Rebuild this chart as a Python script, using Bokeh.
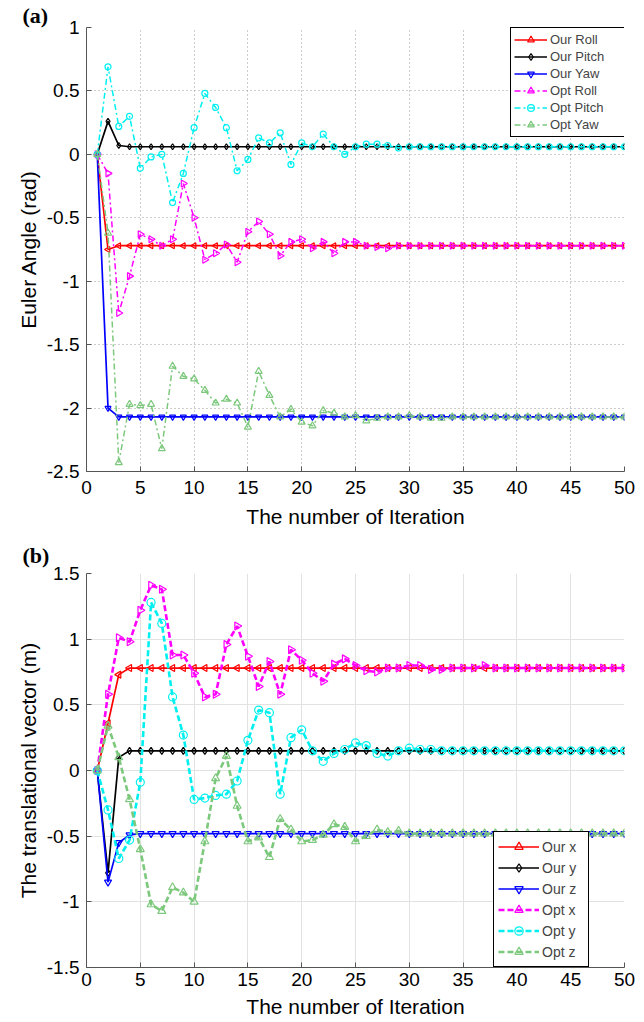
import numpy as np
from bokeh.plotting import figure
from bokeh.models import Range1d, FixedTicker
from bokeh.layouts import column
from bokeh.embed import file_html
from bokeh.resources import INLINE

# ---------------- data ----------------
iterations = list(range(1, 51))
x_ticks = [0, 5, 10, 15, 20, 25, 30, 35, 40, 45, 50]
x_tick_labels = ["0", "5", "10", "15", "20", "25", "30", "35", "40", "45", "50"]

top_y_ticks = [-2.5, -2.0, -1.5, -1.0, -0.5, 0.0, 0.5, 1.0]
top_y_tick_labels = ["-2.5", "-2", "-1.5", "-1", "-0.5", "0", "0.5", "1"]
bot_y_ticks = [-1.5, -1.0, -0.5, 0.0, 0.5, 1.0, 1.5]
bot_y_tick_labels = ["-1.5", "-1", "-0.5", "0", "0.5", "1", "1.5"]

our_roll = [
    0.00, -0.75, -0.72, -0.72, -0.72, -0.72, -0.72, -0.72, -0.72, -0.72,
    -0.72, -0.72, -0.72, -0.72, -0.72, -0.72, -0.72, -0.72, -0.72, -0.72,
    -0.72, -0.72, -0.72, -0.72, -0.72, -0.72, -0.72, -0.72, -0.72, -0.72,
    -0.72, -0.72, -0.72, -0.72, -0.72, -0.72, -0.72, -0.72, -0.72, -0.72,
    -0.72, -0.72, -0.72, -0.72, -0.72, -0.72, -0.72, -0.72, -0.72, -0.72]
our_pitch = [
    0.00, 0.26, 0.07, 0.06, 0.06, 0.06, 0.06, 0.06, 0.06, 0.06,
    0.06, 0.06, 0.06, 0.06, 0.06, 0.06, 0.06, 0.06, 0.06, 0.06,
    0.06, 0.06, 0.06, 0.06, 0.06, 0.06, 0.06, 0.06, 0.06, 0.06,
    0.06, 0.06, 0.06, 0.06, 0.06, 0.06, 0.06, 0.06, 0.06, 0.06,
    0.06, 0.06, 0.06, 0.06, 0.06, 0.06, 0.06, 0.06, 0.06, 0.06]
our_yaw = [
    0.00, -2.00, -2.07, -2.07, -2.07, -2.07, -2.07, -2.07, -2.07, -2.07,
    -2.07, -2.07, -2.07, -2.07, -2.07, -2.07, -2.07, -2.07, -2.07, -2.07,
    -2.07, -2.07, -2.07, -2.07, -2.07, -2.07, -2.07, -2.07, -2.07, -2.07,
    -2.07, -2.07, -2.07, -2.07, -2.07, -2.07, -2.07, -2.07, -2.07, -2.07,
    -2.07, -2.07, -2.07, -2.07, -2.07, -2.07, -2.07, -2.07, -2.07, -2.07]
opt_roll = [
    0.00, -0.15, -1.25, -0.96, -0.63, -0.67, -0.72, -0.67, -0.23, -0.50,
    -0.83, -0.78, -0.71, -0.85, -0.61, -0.53, -0.63, -0.80, -0.69, -0.67,
    -0.74, -0.69, -0.78, -0.69, -0.69, -0.72, -0.73, -0.74, -0.72, -0.72,
    -0.72, -0.72, -0.72, -0.72, -0.72, -0.72, -0.72, -0.72, -0.72, -0.72,
    -0.72, -0.72, -0.72, -0.72, -0.72, -0.72, -0.72, -0.72, -0.72, -0.72]
opt_pitch = [
    0.00, 0.69, 0.22, 0.30, -0.11, -0.02, 0.00, -0.38, -0.15, 0.21,
    0.48, 0.37, 0.21, -0.13, -0.04, 0.13, 0.09, 0.17, -0.08, 0.09,
    0.06, 0.16, 0.06, 0.00, 0.06, 0.08, 0.08, 0.07, 0.05, 0.06,
    0.06, 0.06, 0.06, 0.06, 0.06, 0.06, 0.06, 0.06, 0.06, 0.06,
    0.06, 0.06, 0.06, 0.06, 0.06, 0.06, 0.06, 0.06, 0.06, 0.06]
opt_yaw = [
    0.00, -0.62, -2.43, -1.97, -1.98, -1.97, -2.32, -1.67, -1.75, -1.77,
    -1.86, -1.96, -1.93, -1.96, -2.15, -1.71, -1.90, -2.07, -2.01, -2.11,
    -2.14, -2.02, -2.04, -2.07, -2.06, -2.10, -2.08, -2.07, -2.07, -2.06,
    -2.07, -2.08, -2.08, -2.07, -2.07, -2.07, -2.07, -2.07, -2.07, -2.07,
    -2.07, -2.07, -2.07, -2.07, -2.07, -2.07, -2.07, -2.07, -2.07, -2.07]

our_x = [
    0.00, 0.36, 0.73, 0.78, 0.78, 0.78, 0.78, 0.78, 0.78, 0.78,
    0.78, 0.78, 0.78, 0.78, 0.78, 0.78, 0.78, 0.78, 0.78, 0.78,
    0.78, 0.78, 0.78, 0.78, 0.78, 0.78, 0.78, 0.78, 0.78, 0.78,
    0.78, 0.78, 0.78, 0.78, 0.78, 0.78, 0.78, 0.78, 0.78, 0.78,
    0.78, 0.78, 0.78, 0.78, 0.78, 0.78, 0.78, 0.78, 0.78, 0.78]
our_y = [
    0.00, -0.78, 0.10, 0.15, 0.15, 0.15, 0.15, 0.15, 0.15, 0.15,
    0.15, 0.15, 0.15, 0.15, 0.15, 0.15, 0.15, 0.15, 0.15, 0.15,
    0.15, 0.15, 0.15, 0.15, 0.15, 0.15, 0.15, 0.15, 0.15, 0.15,
    0.15, 0.15, 0.15, 0.15, 0.15, 0.15, 0.15, 0.15, 0.15, 0.15,
    0.15, 0.15, 0.15, 0.15, 0.15, 0.15, 0.15, 0.15, 0.15, 0.15]
our_z = [
    0.00, -0.85, -0.55, -0.49, -0.48, -0.48, -0.48, -0.48, -0.48, -0.48,
    -0.48, -0.48, -0.48, -0.48, -0.48, -0.48, -0.48, -0.48, -0.48, -0.48,
    -0.48, -0.48, -0.48, -0.48, -0.48, -0.48, -0.48, -0.48, -0.48, -0.48,
    -0.48, -0.48, -0.48, -0.48, -0.48, -0.48, -0.48, -0.48, -0.48, -0.48,
    -0.48, -0.48, -0.48, -0.48, -0.48, -0.48, -0.48, -0.48, -0.48, -0.48]
opt_x = [
    0.00, 0.58, 1.01, 0.98, 1.22, 1.41, 1.38, 0.88, 0.88, 0.74,
    0.56, 0.58, 0.96, 1.10, 0.87, 0.64, 0.83, 0.58, 0.92, 0.84,
    0.74, 0.68, 0.81, 0.85, 0.80, 0.76, 0.75, 0.78, 0.78, 0.80,
    0.80, 0.77, 0.77, 0.78, 0.78, 0.78, 0.80, 0.78, 0.78, 0.78,
    0.78, 0.78, 0.78, 0.78, 0.78, 0.78, 0.78, 0.78, 0.78, 0.78]
opt_y = [
    0.00, -0.30, -0.67, -0.53, -0.09, 1.28, 1.12, 0.56, 0.27, -0.22,
    -0.21, -0.19, -0.18, -0.08, 0.23, 0.46, 0.44, -0.18, 0.25, 0.31,
    0.15, 0.07, 0.13, 0.16, 0.21, 0.19, 0.13, 0.11, 0.15, 0.17,
    0.16, 0.16, 0.15, 0.15, 0.15, 0.15, 0.15, 0.15, 0.15, 0.15,
    0.15, 0.15, 0.15, 0.15, 0.15, 0.15, 0.15, 0.15, 0.15, 0.15]
opt_z = [
    0.00, 0.34, 0.10, -0.22, -0.60, -1.02, -1.07, -0.89, -0.93, -1.00,
    -0.54, -0.06, 0.11, -0.27, -0.54, -0.51, -0.66, -0.37, -0.45, -0.54,
    -0.53, -0.49, -0.41, -0.43, -0.54, -0.50, -0.45, -0.47, -0.46, -0.48,
    -0.48, -0.48, -0.48, -0.48, -0.48, -0.48, -0.48, -0.48, -0.48, -0.48,
    -0.48, -0.48, -0.48, -0.48, -0.48, -0.48, -0.48, -0.48, -0.48, -0.48]

RED, BLACK, BLUE = "#ff0000", "#000000", "#0000ff"
MAGENTA, CYAN, GREEN = "#ff00ff", "#00f0f0", "#7cc87c"
SANS = "Liberation Sans"


def style(p, yticks, ylabels, ylabel, grid_dash, grid_color):
    p.outline_line_color = None
    p.background_fill_color = "white"
    p.xaxis.ticker = FixedTicker(ticks=x_ticks)
    p.xaxis.major_label_overrides = {t: l for t, l in zip(x_ticks, x_tick_labels)}
    p.yaxis.ticker = FixedTicker(ticks=yticks)
    p.yaxis.major_label_overrides = {t: l for t, l in zip(yticks, ylabels)}
    for ax in (p.xaxis[0], p.yaxis[0]):
        ax.axis_line_color = "#555555"
        ax.major_tick_line_color = "#555555"
        ax.major_tick_in = 5
        ax.major_tick_out = 0
        ax.minor_tick_line_color = None
        ax.major_label_text_font = SANS
        ax.major_label_text_font_size = "19px"
        ax.major_label_text_color = "black"
        ax.axis_label_text_font = SANS
        ax.axis_label_text_font_size = "21px"
        ax.axis_label_text_font_style = "normal"
        ax.axis_label_text_color = "black"
    p.xaxis.axis_label = "The number of Iteration"
    p.yaxis.axis_label = ylabel
    p.xaxis.major_label_standoff = 9
    p.yaxis.major_label_standoff = 7
    p.xaxis.axis_label_standoff = 8
    p.yaxis.axis_label_standoff = 4
    for g in (p.xgrid[0], p.ygrid[0]):
        g.grid_line_color = grid_color
        g.grid_line_dash = grid_dash
        g.grid_line_width = 1


def panel_title(p, text, standoff):
    p.title.text = text
    p.title.align = "left"
    p.title.offset = -64
    p.title.standoff = standoff
    p.title.text_font = "Liberation Serif"
    p.title.text_font_style = "bold"
    p.title.text_font_size = "22px"
    p.title.text_color = "black"


def series(p, y, color, marker, angle, dash, lw, label, size):
    p.line(iterations, y, line_color=color, line_width=lw, line_dash=dash,
           legend_label=label)
    p.scatter(iterations, y, marker=marker, angle=[angle] * len(iterations),
              size=size, line_color=color, fill_color=None, line_width=1.2,
              legend_label=label)


def style_legend(p, loc, fsize, glyph_w, row_h, pad, label_w):
    lg = p.legend[0]
    lg.location = loc
    lg.margin = 0
    lg.padding = pad
    lg.spacing = 0
    lg.label_text_font = SANS
    lg.label_text_font_size = fsize
    lg.label_height = row_h
    lg.glyph_height = row_h
    lg.glyph_width = glyph_w
    lg.label_standoff = 3
    lg.label_width = label_w
    lg.border_line_color = "black"
    lg.border_line_width = 1
    lg.border_line_alpha = 1
    lg.background_fill_color = "white"
    lg.background_fill_alpha = 1


LEFT = np.pi / 2
RIGHT = -np.pi / 2

# ---------------- figure (a) ----------------
p1 = figure(width=636, height=534, output_backend="svg", toolbar_location=None,
            x_range=Range1d(0, 50), y_range=Range1d(-2.5, 1.0),
            min_border_left=86, min_border_right=12, min_border_top=27,
            min_border_bottom=63)
style(p1, top_y_ticks, top_y_tick_labels, "Euler Angle (rad)", "1 3", "#9a9a9a")
panel_title(p1, "(a)", 0)

series(p1, our_roll, RED, "triangle", LEFT, "solid", 1.7, "Our Roll", 6)
series(p1, our_pitch, BLACK, "diamond", 0, "solid", 1.7, "Our Pitch", 6)
series(p1, our_yaw, BLUE, "inverted_triangle", 0, "solid", 1.7, "Our Yaw", 6)
series(p1, opt_roll, MAGENTA, "triangle", RIGHT, "6 3 2 3", 1.5, "Opt Roll", 7)
series(p1, opt_pitch, CYAN, "circle", 0, "6 3 2 3", 1.5, "Opt Pitch", 6)
series(p1, opt_yaw, GREEN, "triangle", 0, "6 3 2 3", 1.5, "Opt Yaw", 7)
style_legend(p1, (424, 334), "13px", 33, 17, 3, 72)

# ---------------- figure (b) ----------------
p2 = figure(width=636, height=487, output_backend="svg", toolbar_location=None,
            x_range=Range1d(0, 50), y_range=Range1d(-1.5, 1.5),
            min_border_left=86, min_border_right=12, min_border_top=38,
            min_border_bottom=54)
style(p2, bot_y_ticks, bot_y_tick_labels, "The translational vector (m)", "solid", "#e2e2e2")
panel_title(p2, "(b)", 12)
p2.xaxis.major_label_standoff = 5
p2.xaxis.axis_label_standoff = 6

series(p2, our_x, RED, "triangle", LEFT, "solid", 1.7, "Our x", 7)
series(p2, our_y, BLACK, "diamond", 0, "solid", 1.7, "Our y", 7)
series(p2, our_z, BLUE, "inverted_triangle", 0, "solid", 1.7, "Our z", 7)
series(p2, opt_x, MAGENTA, "triangle", RIGHT, "6 3", 2.6, "Opt x", 8)
series(p2, opt_y, CYAN, "circle", 0, "6 3", 2.6, "Opt y", 8)
series(p2, opt_z, GREEN, "triangle", 0, "6 3", 2.6, "Opt z", 8)
style_legend(p2, (407, 0), "14px", 41, 21, 4, 42)

layout = column(p1, p2)
open("out.html", "w").write(file_html(layout, INLINE))
